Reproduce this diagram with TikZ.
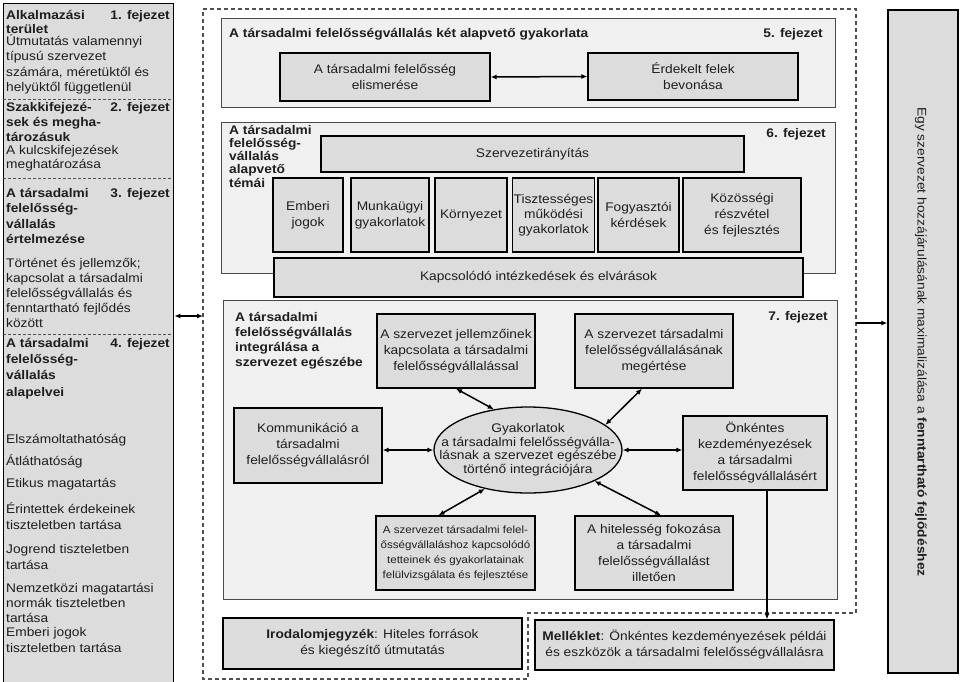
\documentclass[tikz,border=0pt]{standalone}
\usepackage{fontspec}
\setmainfont{Liberation Sans}[FakeStretch=1.1]
\usetikzlibrary{arrows.meta,shapes.geometric,calc}
\definecolor{boxfill}{HTML}{DCDCDC}
\definecolor{framefill}{HTML}{F0F0F0}
\definecolor{framedraw}{HTML}{4A4A4A}
\definecolor{txt}{HTML}{1E1E1E}
\definecolor{dashc}{HTML}{505050}
\begin{document}
\begin{tikzpicture}[x=1pt,y=-1pt,
  every node/.style={text=txt, font=\fontsize{12.5}{16}\selectfont},
  ibox/.style={draw=black, line width=1.3pt, fill=boxfill, align=center, inner sep=1pt},
  frame/.style={draw=framedraw, line width=1.3pt, fill=framefill, anchor=north west, inner sep=0pt},
  ttl/.style={font=\fontsize{12.5}{15}\selectfont\bfseries, align=left, anchor=base west, inner sep=0pt},
  chap/.style={font=\fontsize{12.5}{15}\selectfont\bfseries, anchor=base east, inner sep=0pt},
  body/.style={align=left, anchor=base west, inner sep=0pt},
  conn/.style={line width=1.5pt, {Latex[length=6pt,width=5pt]}-{Latex[length=6pt,width=5pt]}},
  arr/.style={line width=1.5pt, -{Latex[length=6pt,width=5pt]}},
  sep/.style={dash pattern=on 3pt off 2pt, line width=1pt, draw=dashc},
  cont/.style={dash pattern=on 4pt off 3pt, line width=1.2pt, draw=dashc},
]
\useasboundingbox (0,0) rectangle (960,681);

% ---------- left column (multi-line nodes are placed by the baseline of their last line) ----------
\node[draw=black, line width=1.3pt, fill=boxfill, minimum width=170pt, minimum height=690pt, anchor=north west, inner sep=0pt] (leftcol) at (3,3) {};
\draw[sep] (3,99) -- (173,99);
\draw[sep] (3,178) -- (173,178);
\draw[sep] (3,334) -- (173,334);

\node[ttl, font=\fontsize{12.5}{14}\selectfont\bfseries] (t1) at (6,33) {Alkalmazási\\terület};
\node[chap] (c1) at (170,19) {1. fejezet};
\node[body, font=\fontsize{12.5}{15.5}\selectfont] (b1) at (6,91.5) {Útmutatás valamennyi\\típusú szervezet\\számára, méretüktől és\\helyüktől függetlenül};

\node[ttl] (t2) at (6,141) {Szakkifejezé-\\sek és megha-\\tározásuk};
\node[chap] (c2) at (170,111) {2. fejezet};
\node[body, font=\fontsize{12.5}{14}\selectfont] (b2) at (6,168) {A kulcskifejezések\\meghatározása};

\node[ttl, font=\fontsize{12.5}{15.5}\selectfont\bfseries] (t3) at (6,243.5) {A társadalmi\\felelősség-\\vállalás\\értelmezése};
\node[chap] (c3) at (170,197) {3. fejezet};
\node[body, font=\fontsize{12.5}{15}\selectfont] (b3) at (6,327) {Történet és jellemzők;\\kapcsolat a társadalmi\\felelősségvállalás és\\fenntartható fejlődés\\között};

\node[ttl, font=\fontsize{12.5}{16.3}\selectfont\bfseries] (t4) at (6,396) {A társadalmi\\felelősség-\\vállalás\\alapelvei};
\node[chap] (c4) at (170,347) {4. fejezet};
\node[body] (e1) at (6,443) {Elszámoltathatóság};
\node[body] (e2) at (6,465) {Átláthatóság};
\node[body] (e3) at (6,487) {Etikus magatartás};
\node[body] (e4) at (6,529) {Érintettek érdekeinek\\tiszteletben tartása};
\node[body] (e5) at (6,569) {Jogrend tiszteletben\\tartása};
\node[body, font=\fontsize{12.5}{15}\selectfont] (e6) at (6,622) {Nemzetközi magatartási\\normák tiszteletben\\tartása};
\node[body] (e7) at (6,652) {Emberi jogok\\tiszteletben tartása};

% ---------- dashed container ----------
\draw[cont] (203,9) -- (856,9) -- (856,613) -- (528,613) -- (528,679) -- (203,679) -- cycle;
\coordinate (contL) at (203,316);
\coordinate (contR) at (856,323);

% ---------- chapter 5 ----------
\node[frame, minimum width=614pt, minimum height=89pt] (f5) at (221,18) {};
\node[ttl] (f5t) at (229,37) {A társadalmi felelősségvállalás két alapvető gyakorlata};
\node[chap] (f5c) at (823,37) {5. fejezet};
\node[ibox, minimum width=210pt, minimum height=48pt] (elis) at (385,77) {A társadalmi felelősség\\elismerése};
\node[ibox, minimum width=210pt, minimum height=47pt] (bevon) at (693,76.5) {Érdekelt felek\\bevonása};
\draw[conn] (elis.east) -- (bevon.west);

% ---------- chapter 6 ----------
\node[frame, minimum width=614pt, minimum height=151pt] (f6) at (221,122) {};
\node[ttl, font=\fontsize{12.5}{13.2}\selectfont\bfseries] (f6t) at (229,187) {A társadalmi\\felelősség-\\vállalás\\alapvető\\témái};
\node[chap] (f6c) at (826,137) {6. fejezet};
\node[ibox, minimum width=423pt, minimum height=36pt] (szerv) at (532.5,154) {Szervezetirányítás};
\node[ibox, minimum width=70pt, minimum height=74pt] (emberi) at (308,215) {Emberi\\jogok};
\node[ibox, minimum width=78pt, minimum height=74pt] (munka) at (390,215) {Munkaügyi\\gyakorlatok};
\node[ibox, minimum width=72pt, minimum height=74pt] (korny) at (471,215) {Környezet};
\node[ibox, minimum width=81pt, minimum height=74pt, font=\fontsize{12.5}{15}\selectfont] (tiszt) at (553.5,215) {Tisztességes\\működési\\gyakorlatok};
\node[ibox, minimum width=81pt, minimum height=74pt] (fogy) at (638.5,215) {Fogyasztói\\kérdések};
\node[ibox, minimum width=118pt, minimum height=74pt] (kozos) at (742,215) {Közösségi\\részvétel\\és fejlesztés};
\node[ibox, minimum width=529pt, minimum height=39pt] (kapcs) at (538.5,277.5) {Kapcsolódó intézkedések és elvárások};

% ---------- chapter 7 ----------
\node[frame, minimum width=614pt, minimum height=299pt] (f7) at (223,300) {};
\node[ttl] (f7t) at (235,366) {A társadalmi\\felelősségvállalás\\integrálása a\\szervezet egészébe};
\node[chap] (f7c) at (828,320) {7. fejezet};
\node[ibox, minimum width=158pt, minimum height=74pt] (jell) at (456,351) {A szervezet jellemzőinek\\kapcsolata a társadalmi\\felelősségvállalással};
\node[ibox, minimum width=158pt, minimum height=74pt] (meg) at (654,351) {A szervezet társadalmi\\felelősségvállalásának\\megértése};
\node[ibox, minimum width=148pt, minimum height=75pt] (komm) at (308,445.5) {Kommunikáció a\\társadalmi\\felelősségvállalásról};
\node[ibox, minimum width=144pt, minimum height=74pt] (onk) at (755,453) {Önkéntes\\kezdeményezések\\a társadalmi\\felelősségvállalásért};
\node[ibox, minimum width=159pt, minimum height=74pt, font=\fontsize{10.5}{15}\selectfont] (felul) at (455.5,553) {A szervezet társadalmi felel-\\ősségvállaláshoz kapcsolódó\\tetteinek és gyakorlatainak\\felülvizsgálata és fejlesztése};
\node[ibox, minimum width=158pt, minimum height=74pt] (hitel) at (654,553) {A hitelesség fokozása\\a társadalmi\\felelősségvállalást\\illetően};
\node[ellipse, draw=black, line width=1.3pt, fill=boxfill, minimum width=188pt, minimum height=86pt, inner sep=0pt] (ell) at (528,450) {};
\node[align=center, inner sep=0pt, font=\fontsize{12.5}{13.5}\selectfont] (elltxt) at (528,450) {Gyakorlatok\\a társadalmi felelősségválla-\\lásnak a szervezet egészébe\\történő integrációjára};

\draw[conn] (jell.south) -- (ell.130);
\coordinate (megc) at ($(meg.south)+(-12,0)$);
\draw[conn] (megc) -- (ell.18);
\draw[conn] (ell.west) -- (ell.west -| komm.east);
\draw[conn] (ell.east) -- (ell.east -| onk.west);
\coordinate (felc) at ($(felul.north)+(-17,0)$);
\draw[conn] (felc) -- (ell.222);
\coordinate (hitc) at ($(hitel.north)+(7,0)$);
\draw[conn] (hitc) -- (ell.335);

% ---------- bottom boxes ----------
\node[ibox, minimum width=299pt, minimum height=51pt] (irod) at (372.5,643.5) {\textbf{Irodalomjegyzék}: Hiteles források\\és kiegészítő útmutatás};
\node[ibox, minimum width=299pt, minimum height=50pt] (mell) at (684.5,645) {\textbf{Melléklet}: Önkéntes kezdeményezések példái\\és eszközök a társadalmi felelősségvállalásra};
\coordinate (onkb) at ($(onk.south)+(12,0)$);
\draw[arr] (onkb) -- (onkb |- mell.north);

% ---------- right goal box ----------
\node[draw=black, line width=1.3pt, fill=boxfill, minimum width=70pt, minimum height=663pt, inner sep=0pt] (goal) at (923,341.5) {};
\node[rotate=-90, inner sep=0pt] (goaltxt) at (921,342) {Egy szervezet hozzájárulásának maximalizálása a \textbf{fenntartható fejlődéshez}};

% ---------- outer connectors ----------
\draw[conn] (contL -| leftcol.east) -- (contL);
\draw[arr] (contR) -- (contR -| goal.west);
\end{tikzpicture}
\end{document}
